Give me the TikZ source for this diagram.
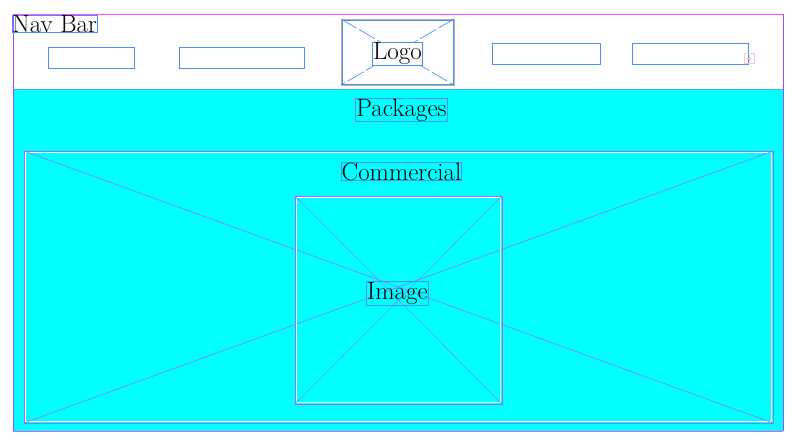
\documentclass[tikz,border=0pt]{standalone}
\begin{document}
\begin{tikzpicture}[x=1pt, y=-1pt, font=\fontsize{25}{29}\selectfont]
    \definecolor{frameMagenta}{HTML}{FF4DFF}
    \definecolor{framePurple}{HTML}{A04DFF}
    \definecolor{boxBlue}{HTML}{4D90F5}
    \definecolor{crossViolet}{HTML}{9A70F8}
    \definecolor{pageCyan}{HTML}{00FFFF}
    \definecolor{plusPink}{HTML}{F4C8CC}

    \tikzset{
        label box/.style={draw=boxBlue, line width=1pt, inner sep=0.5pt, text=black},
        nav button/.style={draw=boxBlue, line width=1pt},
        cross line/.style={draw=crossViolet, line width=0.6pt}
    }

    \useasboundingbox (0,0) rectangle (796,442);

    % Draw page areas
    \fill[white] (13,14) rectangle (783,89);
    \fill[pageCyan] (13,89) rectangle (783,431);
    \draw[boxBlue!60!pageCyan, line width=0.8pt] (13,89) -- (783,89);
    \draw[frameMagenta, line width=1pt] (13,14) -- (783,14);
    \draw[frameMagenta, line width=1pt] (13,431) -- (783,431);
    \draw[framePurple, line width=1pt] (13,14) -- (13,431);
    \draw[framePurple, line width=1pt] (783,14) -- (783,431);

    % Nav bar
    \node[label box, anchor=north west, inner sep=0pt] (navbar) at (12,15) {Nav Bar};
    \draw[nav button] (48,47) rectangle (134,68);
    \draw[nav button] (179,47) rectangle (304,68);
    \draw[nav button] (492,43) rectangle (600,64);
    \draw[nav button] (632,43) rectangle (748,64);
    \draw[plusPink, line width=0.6pt] (744,53) rectangle (754,63);
    \draw[plusPink, line width=0.5pt] (746,58) -- (752,58) (749,55) -- (749,61);

    % Logo
    \coordinate (L1) at (341,19);
    \coordinate (L2) at (454,19);
    \coordinate (L3) at (454,85);
    \coordinate (L4) at (341,85);
    \draw[gray!60, line width=0.6pt] (L1) rectangle (L3);
    \draw[boxBlue, line width=0.8pt] (342,20) rectangle (453,84);
    \draw[boxBlue, line width=0.7pt, dash pattern=on 18pt off 3pt] (L1) -- (L3);
    \draw[boxBlue, line width=0.7pt, dash pattern=on 18pt off 3pt] (L2) -- (L4);
    \node[label box, fill=white] (logo) at (397.5,54) {Logo};

    % Packages
    \node[label box] (packages) at (401.5,110) {Packages};

    % Commercial block
    \coordinate (C1) at (24,151);
    \coordinate (C2) at (773,151);
    \coordinate (C3) at (773,423);
    \coordinate (C4) at (24,423);
    \draw[crossViolet, line width=1pt] (C1) rectangle (C3);
    \draw[white, line width=0.5pt] (25.5,152.5) rectangle (771.5,421.5);
    \draw[cross line] (C1) -- (C3);
    \draw[cross line] (C2) -- (C4);
    \node[label box] (commercial) at (401.5,171.5) {Commercial};

    % Image block
    \coordinate (I1) at (295,196);
    \coordinate (I2) at (502,196);
    \coordinate (I3) at (502,404);
    \coordinate (I4) at (295,404);
    \draw[crossViolet, line width=1pt] (I1) rectangle (I3);
    \draw[white, line width=0.5pt] (296.5,197.5) rectangle (500.5,402.5);
    \draw[cross line, line width=0.4pt] (I1) -- (I3);
    \draw[cross line, line width=0.4pt] (I2) -- (I4);
    \node[label box] (image) at (397.5,293.5) {Image};

\end{tikzpicture}
\end{document}
